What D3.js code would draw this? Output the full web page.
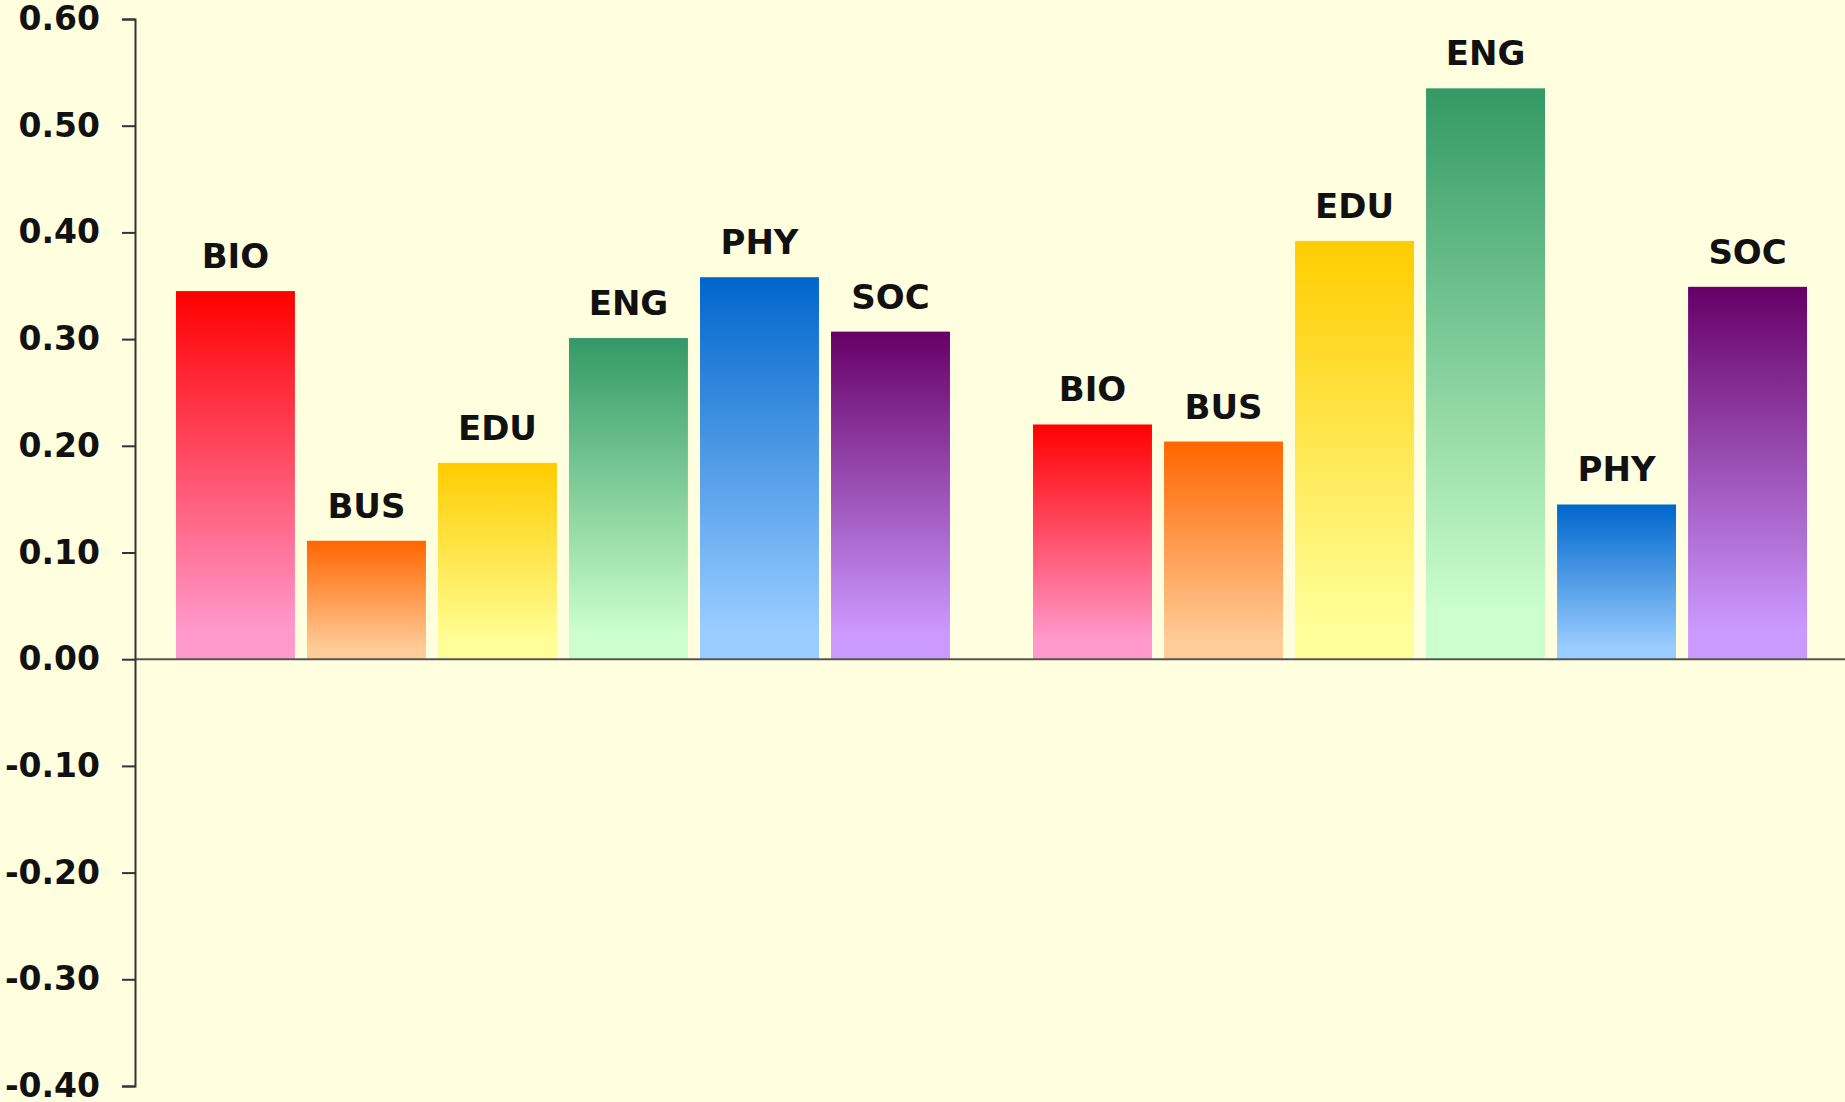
<!DOCTYPE html>
<html>
  <head>
    <title>Bar Chart</title>
    <script src="https://d3js.org/d3.v7.min.js"></script>
    <style>
      body {
        margin: 0;
        background-color: #ffffe0;
      }
      svg text {
        font-family: "DejaVu Sans", Verdana, sans-serif;
        font-weight: bold;
      }
    </style>
  </head>
  <body>
    <script>
      const groups = ['g1', 'g2'];
      const fields = ['BIO', 'BUS', 'EDU', 'ENG', 'PHY', 'SOC'];
      const group1Values = [0.345, 0.111, 0.184, 0.301, 0.358, 0.307];
      const group2Values = [0.220, 0.204, 0.392, 0.535, 0.145, 0.349];
      const yTicks = [0.6, 0.5, 0.4, 0.3, 0.2, 0.1, 0, -0.1, -0.2, -0.3, -0.4];
      const topColors = ['#ff0000', '#ff6600', '#ffcc00', '#339966', '#0066cc', '#660066'];
      const bottomColors = ['#ff99cc', '#ffcc99', '#ffff99', '#ccffcc', '#99ccff', '#cc99ff'];

      const w = 1845;
      const h = 1102;
      const axisX = 135;

      const svg = d3.select('body')
                    .append('svg')
                    .attr('width', w)
                    .attr('height', h);

      const y = d3.scaleLinear()
                  .domain([-0.4, 0.6])
                  .range([1086, 19]);

      const x0 = d3.scaleBand()
                   .domain(groups)
                   .range([axisX, 1848])
                   .paddingInner(0.0969)
                   .paddingOuter(0.0478);

      const x1 = d3.scaleBand()
                   .domain(fields)
                   .range([0, x0.bandwidth()])
                   .paddingInner(0.092);

      const defs = svg.append('defs');
      fields.forEach((f, i) => {
        const grad = defs.append('linearGradient')
                         .attr('id', 'grad-' + f)
                         .attr('x1', 0).attr('y1', 0)
                         .attr('x2', 0).attr('y2', 1);
        grad.append('stop').attr('offset', '0%').attr('stop-color', topColors[i]);
        grad.append('stop').attr('offset', '92%').attr('stop-color', bottomColors[i]);
      });

      const data = [];
      groups.forEach((g, gi) => {
        const vals = gi === 0 ? group1Values : group2Values;
        fields.forEach((f, i) => data.push({group: g, field: f, value: vals[i]}));
      });

      svg.selectAll('rect.bar')
         .data(data)
         .enter()
         .append('rect')
         .attr('class', 'bar')
         .attr('x', d => x0(d.group) + x1(d.field))
         .attr('y', d => y(d.value))
         .attr('width', x1.bandwidth())
         .attr('height', d => y(0) - y(d.value))
         .style('fill', d => `url(#grad-${d.field})`);

      svg.selectAll('text.label')
         .data(data)
         .enter()
         .append('text')
         .attr('class', 'label')
         .attr('x', d => x0(d.group) + x1(d.field) + x1.bandwidth() / 2)
         .attr('y', d => y(d.value) - 23)
         .attr('text-anchor', 'middle')
         .style('font-size', '34px')
         .style('fill', '#111')
         .text(d => d.field);

      // zero line
      svg.append('line')
         .attr('x1', axisX)
         .attr('x2', w)
         .attr('y1', y(0))
         .attr('y2', y(0))
         .style('stroke', '#555')
         .style('stroke-width', 2);

      const yAxis = d3.axisLeft(y)
                      .tickValues(yTicks)
                      .tickFormat(d3.format('.2f'))
                      .tickSize(13)
                      .tickSizeOuter(13)
                      .tickPadding(22);

      const gAxis = svg.append('g')
                       .attr('transform', `translate(${axisX},0)`)
                       .call(yAxis);

      gAxis.selectAll('path, line')
           .style('stroke', '#333')
           .style('stroke-width', 2);

      gAxis.selectAll('text')
           .style('font-size', '33px')
           .style('fill', '#111')
           .text(d => d3.format('.2f')(d).replace('−', '-'));
    </script>
  </body>
</html>
